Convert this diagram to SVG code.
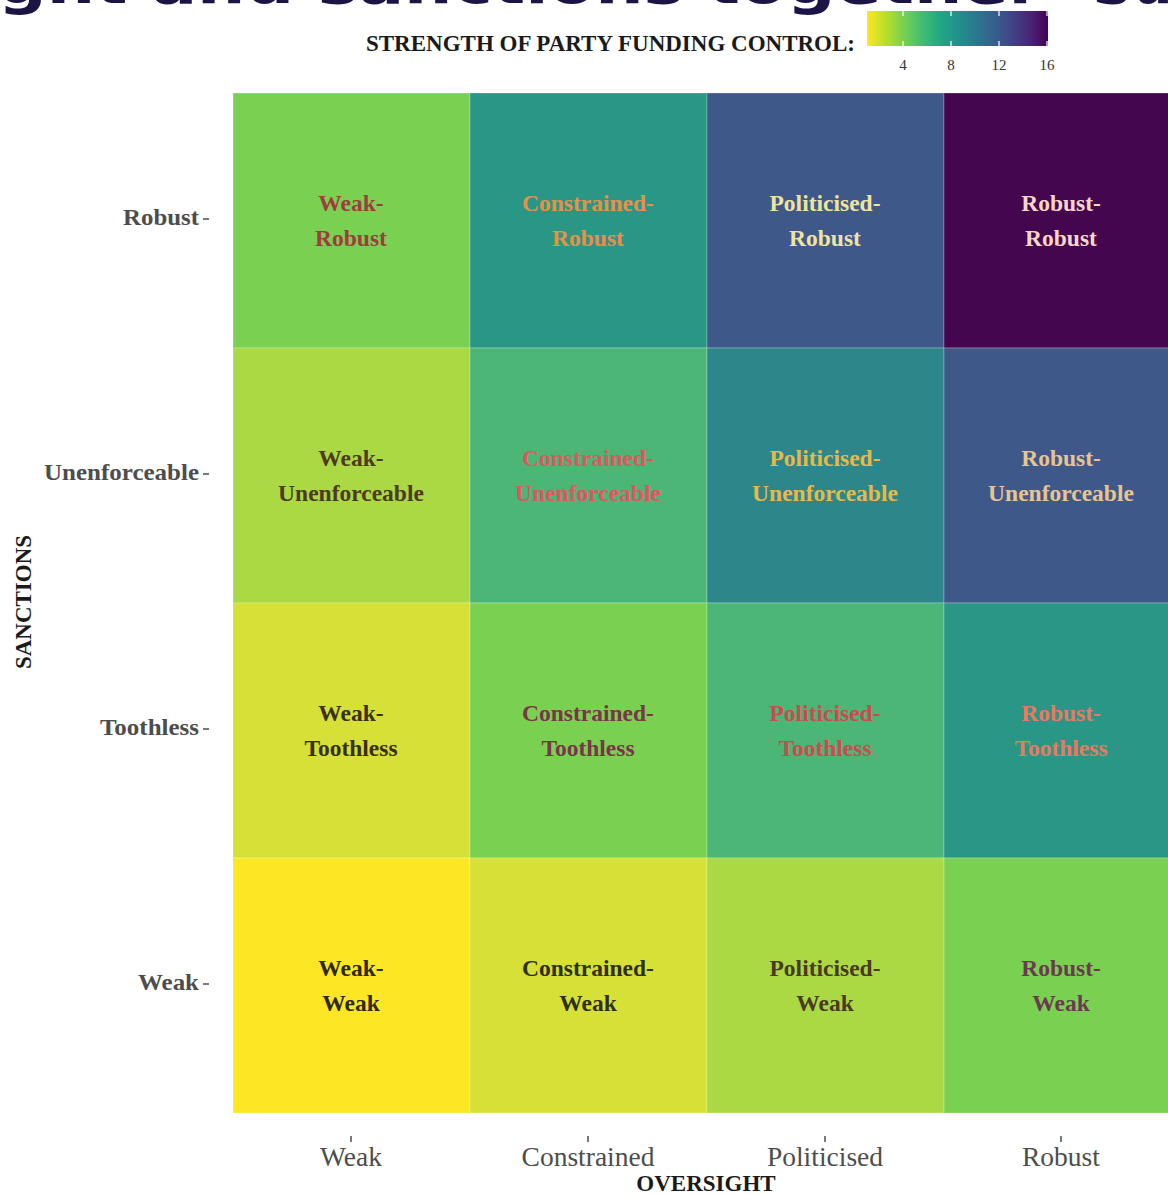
<svg xmlns="http://www.w3.org/2000/svg" width="1168" height="1195" viewBox="0 0 1168 1195">
<defs>
<linearGradient id="viridisR" x1="0" y1="0" x2="1" y2="0">
<stop offset="0" stop-color="#FDE725"/>
<stop offset="0.1" stop-color="#BBDF27"/>
<stop offset="0.2" stop-color="#7AD151"/>
<stop offset="0.3" stop-color="#43BF71"/>
<stop offset="0.4" stop-color="#22A884"/>
<stop offset="0.5" stop-color="#21918C"/>
<stop offset="0.6" stop-color="#2A788E"/>
<stop offset="0.7" stop-color="#35608D"/>
<stop offset="0.8" stop-color="#414487"/>
<stop offset="0.9" stop-color="#482576"/>
<stop offset="1" stop-color="#440154"/>
</linearGradient>
</defs>
<style>
.title{font-family:"DejaVu Sans",sans-serif;font-weight:bold;font-size:56px;fill:#1d1446}
.lt{font-family:"Liberation Serif",serif;font-weight:bold;font-size:23px;fill:#1a1a1a}
.tick{font-family:"Liberation Serif",serif;font-size:15px;fill:#333}
.tile{stroke:#ffffff;stroke-opacity:0.25;stroke-width:1}
.cl{font-family:"Liberation Serif",serif;font-weight:bold;font-size:23.5px;text-anchor:middle}
.ylab{font-family:"Liberation Serif",serif;font-weight:bold;font-size:23px;fill:#4d4d4d;text-anchor:end}
.xlab{font-family:"Liberation Serif",serif;font-size:27.5px;fill:#4d4d4d;text-anchor:middle}
.axt{font-family:"Liberation Serif",serif;font-weight:bold;font-size:23px;fill:#1a1a1a;text-anchor:middle}
.tk{stroke:#4d4d4d;stroke-width:1.5}
.wt{stroke:#ffffff;stroke-width:1.5;stroke-opacity:0.8}
</style>
<rect width="1168" height="1195" fill="#ffffff"/>

<g id="title">
<text class="title" x="-2" y="3" textLength="1044" lengthAdjust="spacingAndGlyphs">ght and sanctions together</text>
<text class="title" x="1045" y="3">– Sub</text>
</g>

<g id="legend">
<text class="lt" x="855" y="51" text-anchor="end">STRENGTH OF PARTY FUNDING CONTROL:</text>
<rect x="867" y="11" width="181" height="35" fill="url(#viridisR)"/>
<line class="wt" x1="903" y1="11" x2="903" y2="16"/><line class="wt" x1="903" y1="41" x2="903" y2="46"/>
<line class="wt" x1="951" y1="11" x2="951" y2="16"/><line class="wt" x1="951" y1="41" x2="951" y2="46"/>
<line class="wt" x1="999" y1="11" x2="999" y2="16"/><line class="wt" x1="999" y1="41" x2="999" y2="46"/>
<line class="wt" x1="1047" y1="11" x2="1047" y2="16"/><line class="wt" x1="1047" y1="41" x2="1047" y2="46"/>
<text class="tick" x="903" y="70" text-anchor="middle">4</text>
<text class="tick" x="951" y="70" text-anchor="middle">8</text>
<text class="tick" x="999" y="70" text-anchor="middle">12</text>
<text class="tick" x="1047" y="70" text-anchor="middle">16</text>
</g>

<g id="tiles">
<g id="weak-robust"><rect class="tile" x="233" y="93" width="237" height="255" fill="#7AD151"/>
<text class="cl" x="351" y="211" fill="#9e3d3d">Weak-</text><text class="cl" x="351" y="246" fill="#9e3d3d">Robust</text></g>
<g id="constrained-robust"><rect class="tile" x="470" y="93" width="237" height="255" fill="#2A9686"/>
<text class="cl" x="588" y="211" fill="#e8904a">Constrained-</text><text class="cl" x="588" y="246" fill="#e8904a">Robust</text></g>
<g id="politicised-robust"><rect class="tile" x="707" y="93" width="237" height="255" fill="#3E588A"/>
<text class="cl" x="825" y="211" fill="#efe3a0">Politicised-</text><text class="cl" x="825" y="246" fill="#efe3a0">Robust</text></g>
<g id="robust-robust"><rect class="tile" x="944" y="93" width="237" height="255" fill="#44074F"/>
<text class="cl" x="1061" y="211" fill="#f6d6c6">Robust-</text><text class="cl" x="1061" y="246" fill="#f6d6c6">Robust</text></g>

<g id="weak-unenforceable"><rect class="tile" x="233" y="348" width="237" height="255" fill="#AAD944"/>
<text class="cl" x="351" y="466" fill="#4e3a1e">Weak-</text><text class="cl" x="351" y="501" fill="#4e3a1e">Unenforceable</text></g>
<g id="constrained-unenforceable"><rect class="tile" x="470" y="348" width="237" height="255" fill="#4CB677"/>
<text class="cl" x="588" y="466" fill="#e05560">Constrained-</text><text class="cl" x="588" y="501" fill="#e05560">Unenforceable</text></g>
<g id="politicised-unenforceable"><rect class="tile" x="707" y="348" width="237" height="255" fill="#2D878A"/>
<text class="cl" x="825" y="466" fill="#e8b848">Politicised-</text><text class="cl" x="825" y="501" fill="#e8b848">Unenforceable</text></g>
<g id="robust-unenforceable"><rect class="tile" x="944" y="348" width="237" height="255" fill="#3E588A"/>
<text class="cl" x="1061" y="466" fill="#e8c490">Robust-</text><text class="cl" x="1061" y="501" fill="#e8c490">Unenforceable</text></g>

<g id="weak-toothless"><rect class="tile" x="233" y="603" width="237" height="255" fill="#D6E036"/>
<text class="cl" x="351" y="721" fill="#3a3010">Weak-</text><text class="cl" x="351" y="756" fill="#3a3010">Toothless</text></g>
<g id="constrained-toothless"><rect class="tile" x="470" y="603" width="237" height="255" fill="#7AD151"/>
<text class="cl" x="588" y="721" fill="#7a3548">Constrained-</text><text class="cl" x="588" y="756" fill="#7a3548">Toothless</text></g>
<g id="politicised-toothless"><rect class="tile" x="707" y="603" width="237" height="255" fill="#4CB677"/>
<text class="cl" x="825" y="721" fill="#cc4a50">Politicised-</text><text class="cl" x="825" y="756" fill="#cc4a50">Toothless</text></g>
<g id="robust-toothless"><rect class="tile" x="944" y="603" width="237" height="255" fill="#2A9686"/>
<text class="cl" x="1061" y="721" fill="#e87a60">Robust-</text><text class="cl" x="1061" y="756" fill="#e87a60">Toothless</text></g>

<g id="weak-weak"><rect class="tile" x="233" y="858" width="237" height="255" fill="#FDE725"/>
<text class="cl" x="351" y="976" fill="#2e2a10">Weak-</text><text class="cl" x="351" y="1011" fill="#2e2a10">Weak</text></g>
<g id="constrained-weak"><rect class="tile" x="470" y="858" width="237" height="255" fill="#D6E036"/>
<text class="cl" x="588" y="976" fill="#2e3018">Constrained-</text><text class="cl" x="588" y="1011" fill="#2e3018">Weak</text></g>
<g id="politicised-weak"><rect class="tile" x="707" y="858" width="237" height="255" fill="#AAD944"/>
<text class="cl" x="825" y="976" fill="#4a3a20">Politicised-</text><text class="cl" x="825" y="1011" fill="#4a3a20">Weak</text></g>
<g id="robust-weak"><rect class="tile" x="944" y="858" width="237" height="255" fill="#7AD151"/>
<text class="cl" x="1061" y="976" fill="#6a3a50">Robust-</text><text class="cl" x="1061" y="1011" fill="#6a3a50">Weak</text></g>
</g>

<g id="y-axis">
<text class="ylab" x="199" y="225" textLength="76" lengthAdjust="spacingAndGlyphs">Robust</text>
<text class="ylab" x="199" y="480" textLength="155" lengthAdjust="spacingAndGlyphs">Unenforceable</text>
<text class="ylab" x="199" y="735" textLength="99" lengthAdjust="spacingAndGlyphs">Toothless</text>
<text class="ylab" x="199" y="990" textLength="61" lengthAdjust="spacingAndGlyphs">Weak</text>
<line class="tk" x1="203" y1="219" x2="209" y2="219"/>
<line class="tk" x1="203" y1="474" x2="209" y2="474"/>
<line class="tk" x1="203" y1="729" x2="209" y2="729"/>
<line class="tk" x1="203" y1="984" x2="209" y2="984"/>
<text class="axt" transform="translate(31,602) rotate(-90)" x="0" y="0">SANCTIONS</text>
</g>

<g id="x-axis">
<line class="tk" x1="351" y1="1136" x2="351" y2="1142"/>
<line class="tk" x1="588" y1="1136" x2="588" y2="1142"/>
<line class="tk" x1="825" y1="1136" x2="825" y2="1142"/>
<line class="tk" x1="1061" y1="1136" x2="1061" y2="1142"/>
<text class="xlab" x="351" y="1166">Weak</text>
<text class="xlab" x="588" y="1166">Constrained</text>
<text class="xlab" x="825" y="1166">Politicised</text>
<text class="xlab" x="1061" y="1166">Robust</text>
<text class="axt" x="706" y="1191">OVERSIGHT</text>
</g>
</svg>
